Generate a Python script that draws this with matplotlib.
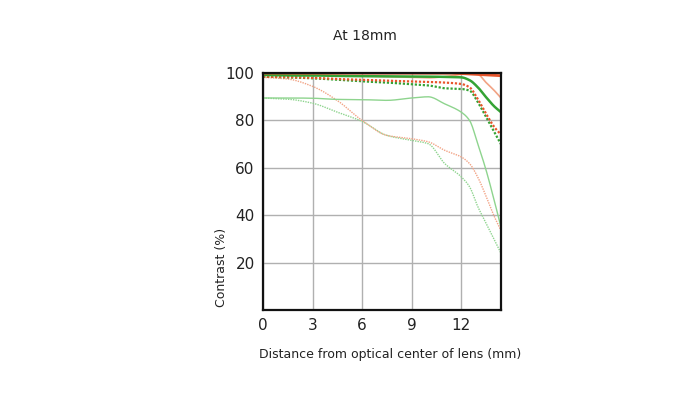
import matplotlib
matplotlib.use("Agg")
import matplotlib.pyplot as plt
import numpy as np

# Data
x = [0, 1.5, 3, 4.5, 6, 7.5, 9, 10, 11, 12, 12.5, 13, 13.5, 14, 14.4]

red_thick_solid  = [100, 100, 100, 100, 100, 100, 100, 100, 100, 99.8, 99.6, 99.4, 99.2, 99.0, 98.9]
red_thick_dot    = [98.5, 98.3, 98.0, 97.5, 97.2, 96.8, 96.5, 96.3, 96.0, 95.4, 94.0, 89.0, 82.8, 77.2, 74.0]
green_thick_solid= [99.2, 99.0, 99.0, 98.8, 98.7, 98.6, 98.5, 98.5, 98.4, 98.2, 97.0, 94.0, 89.8, 85.9, 83.5]
green_thick_dot  = [98.5, 98.2, 97.8, 97.2, 96.5, 96.0, 95.3, 94.8, 93.6, 93.3, 92.6, 87.7, 81.4, 75.0, 70.0]
red_thin_solid   = [99.5, 99.4, 99.2, 99.0, 98.8, 98.5, 98.2, 98.0, 98.5, 99.5, 100, 99.5, 96.0, 92.6, 89.5]
red_thin_dot     = [98.2, 97.5, 94.4, 88.4, 80.0, 73.7, 72.3, 71.0, 67.4, 64.6, 61.8, 56.0, 48.0, 39.4, 33.6]
green_thin_solid = [89.5, 89.5, 89.4, 88.9, 88.8, 88.5, 89.5, 90.0, 87.0, 83.5, 80.0, 70.0, 59.0, 46.0, 35.0]
green_thin_dot   = [89.5, 89.0, 87.3, 83.5, 79.6, 73.7, 71.6, 70.2, 61.8, 56.2, 52.0, 43.6, 36.6, 29.6, 24.0]

x_ticks = [0, 3, 6, 9, 12]
y_ticks = [20, 40, 60, 80, 100]

RED = "#e8552b"
RED_L = "#f2a385"
GRN = "#35a335"
GRN_L = "#8ed48e"
DOT = (0, (1, 0.8))


def pchip(xs, ys, xn):
    xs = np.asarray(xs, float)
    ys = np.asarray(ys, float)
    h = np.diff(xs)
    d = np.diff(ys) / h
    m = np.zeros_like(ys)
    m[0], m[-1] = d[0], d[-1]
    for k in range(1, len(xs) - 1):
        if d[k - 1] * d[k] > 0:
            w1 = 2 * h[k] + h[k - 1]
            w2 = h[k] + 2 * h[k - 1]
            m[k] = (w1 + w2) / (w1 / d[k - 1] + w2 / d[k])
    idx = np.clip(np.searchsorted(xs, xn) - 1, 0, len(xs) - 2)
    t = (xn - xs[idx]) / h[idx]
    h00 = 2 * t**3 - 3 * t**2 + 1
    h10 = t**3 - 2 * t**2 + t
    h01 = -2 * t**3 + 3 * t**2
    h11 = t**3 - t**2
    return h00 * ys[idx] + h10 * h[idx] * m[idx] + h01 * ys[idx + 1] + h11 * h[idx] * m[idx + 1]


xf = np.linspace(x[0], x[-1], 300)

fig = plt.figure(figsize=(7.0, 3.93), dpi=100)
ax = fig.add_axes([0.3757, 0.211, 0.34, 0.603])

def draw(ys, **kw):
    ax.plot(xf, pchip(x, ys, xf), **kw)

draw(green_thin_dot, color=GRN_L, lw=1.0, ls=DOT)
draw(red_thin_dot, color=RED_L, lw=1.0, ls=DOT)
draw(green_thin_solid, color=GRN_L, lw=1.0)
draw(red_thin_solid, color=RED_L, lw=1.2)
draw(green_thick_dot, color=GRN, lw=1.6, ls=DOT)
draw(red_thick_dot, color=RED, lw=1.6, ls=DOT)
draw(green_thick_solid, color=GRN, lw=1.8)
draw(red_thick_solid, color=RED, lw=2.0)

ax.set_xlim(0, 14.4)
ax.set_ylim(0, 100)
ax.set_xticks(x_ticks)
ax.set_yticks(y_ticks)
ax.tick_params(length=0, labelsize=11, pad=6, colors="#222222")
ax.grid(True, color="#b0b0b0", lw=1.0)
for s in ax.spines.values():
    s.set_linewidth(1.6)
    s.set_color("#111111")

ax.set_xlabel("Distance from optical center of lens (mm)", fontsize=9, color="#222222")
ax.xaxis.set_label_coords(0.534, -0.16)
ax.set_ylabel("Contrast (%)", fontsize=9, color="#222222")
ax.yaxis.set_label_coords(-0.147, 0.18)
ax.text(0.43, 1.155, "At 18mm", transform=ax.transAxes, ha="center", va="center",
        fontsize=10, color="#222222")

fig.savefig("out.png", dpi=100)
